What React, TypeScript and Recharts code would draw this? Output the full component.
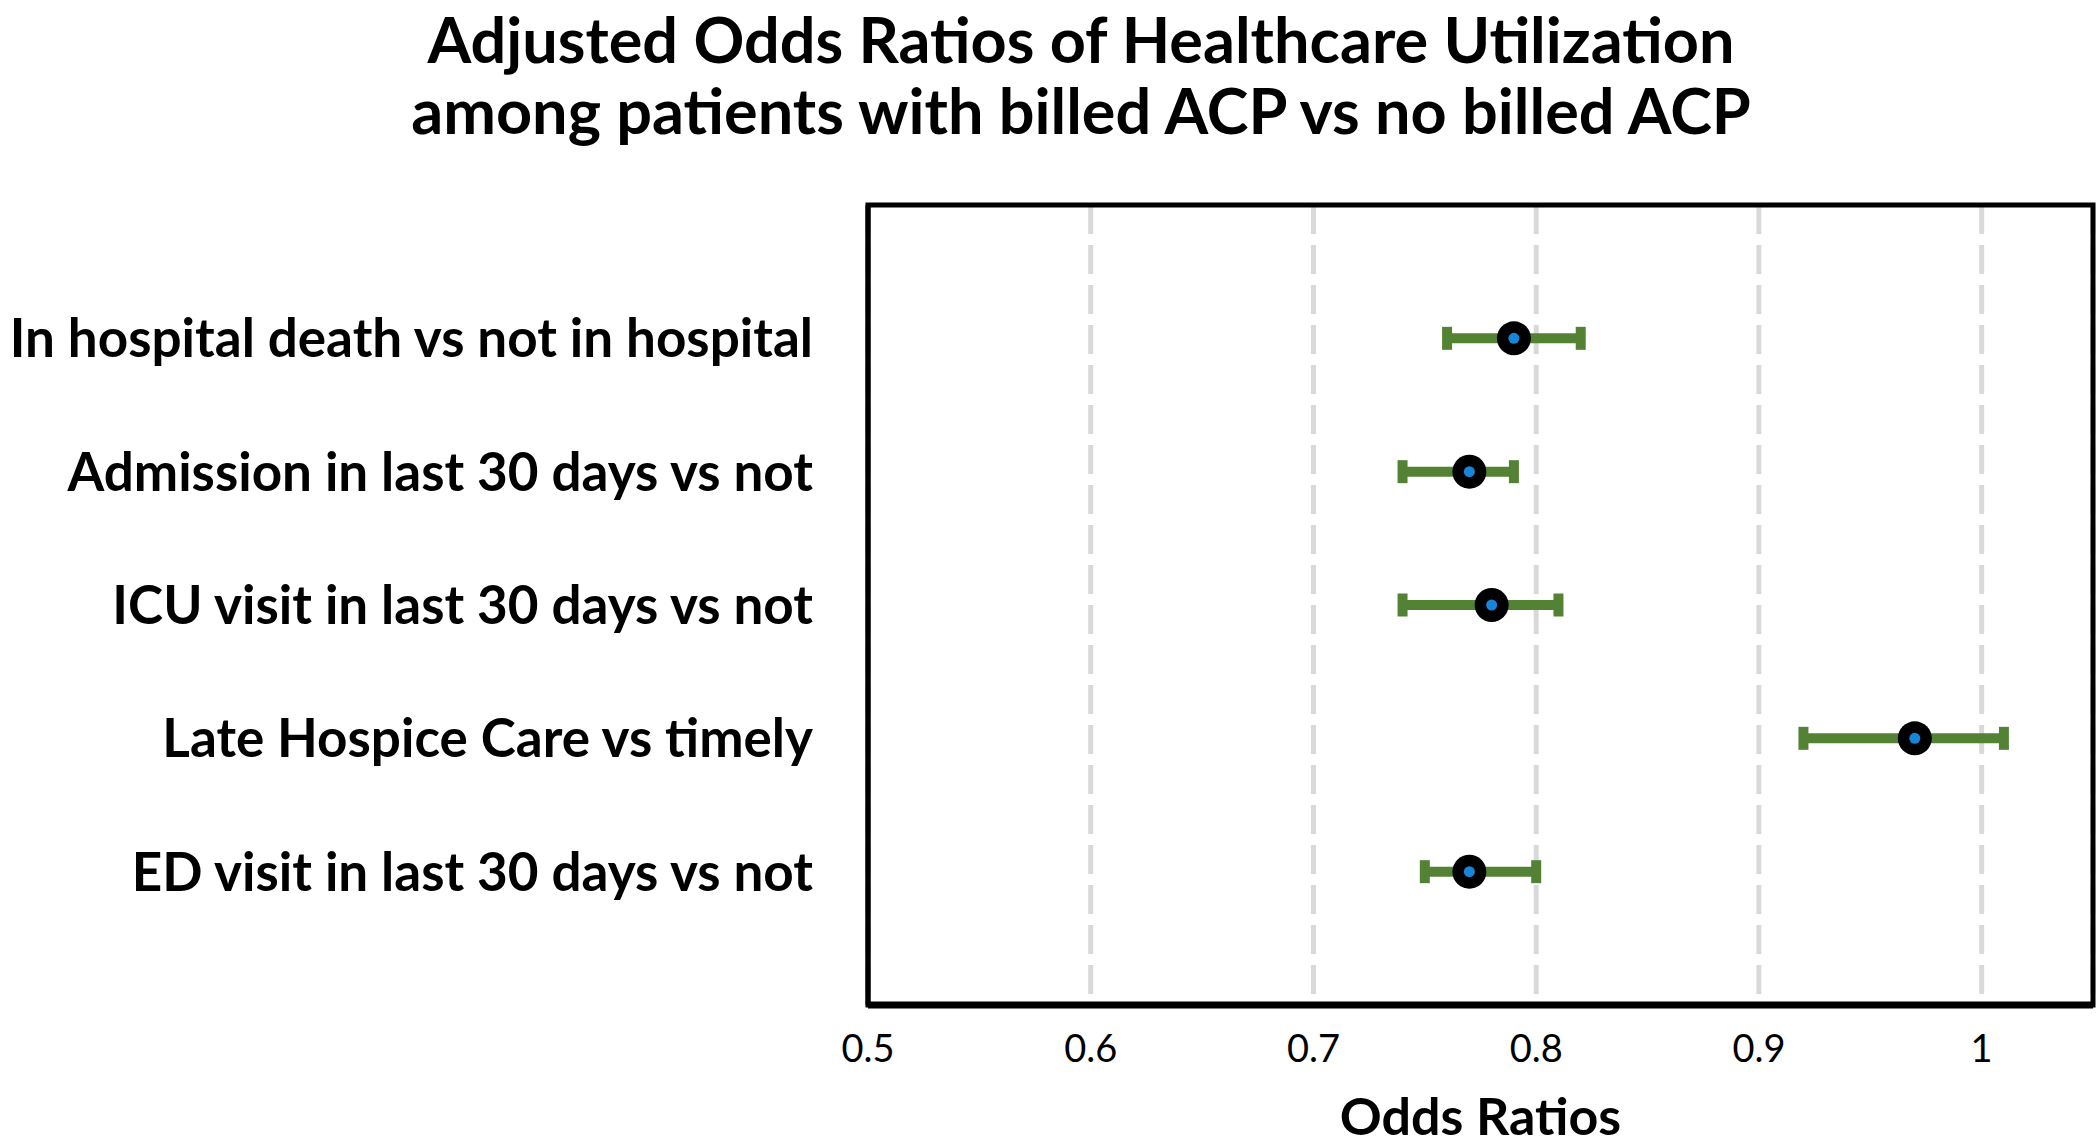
import React from "react";
import {
  ScatterChart,
  Scatter,
  XAxis,
  YAxis,
  CartesianGrid,
  ErrorBar,
  ReferenceArea,
} from "recharts";

const categories = [
  "In hospital death vs not in hospital",
  "Admission in last 30 days vs not",
  "ICU visit in last 30 days vs not",
  "Late Hospice Care vs timely",
  "ED visit in last 30 days vs not",
];
const oddsRatios = [0.79, 0.77, 0.78, 0.97, 0.77];
const ciLower = [0.76, 0.74, 0.74, 0.92, 0.75];
const ciUpper = [0.82, 0.79, 0.81, 1.01, 0.8];
const xTicks = [0.5, 0.6, 0.7, 0.8, 0.9, 1];

const FONT = "Lato, 'Open Sans', sans-serif";
const GREEN = "#548235";

// rows are numbered from the bottom, first category at the top
const data = categories.map((name, i) => ({
  name,
  or: oddsRatios[i],
  row: categories.length - i,
  err: [oddsRatios[i] - ciLower[i], ciUpper[i] - oddsRatios[i]],
}));
const rowTicks = data.map((d) => d.row).reverse();

const CategoryTick = ({ x, y, payload }: any) => {
  const item = data.find((d) => d.row === payload.value);
  return (
    <text
      x={x}
      y={y}
      dy="0.36em"
      textAnchor="end"
      fontSize={53}
      fontWeight={700}
      fontFamily={FONT}
      fill="#000"
    >
      {item ? item.name : ""}
    </text>
  );
};

const ValueTick = ({ x, y, payload }: any) => (
  <text x={x} y={y} textAnchor="middle" fontSize={38} fontFamily={FONT} fill="#000">
    {payload.value}
  </text>
);

const Marker = ({ cx, cy }: any) => (
  <g>
    <circle cx={cx} cy={cy} r={17} fill="#000" />
    <circle cx={cx} cy={cy} r={5.5} fill="#1685da" />
  </g>
);

export default function App() {
  return (
    <div style={{ position: "absolute", left: 0, top: 0, width: 2100, height: 1146, background: "#fff" }}>
      <div
        style={{
          position: "absolute",
          left: 0,
          top: 3,
          width: 2162,
          textAlign: "center",
          fontFamily: FONT,
          fontWeight: 700,
          fontSize: 63,
          lineHeight: "71px",
          color: "#000",
        }}
      >
        Adjusted Odds Ratios of Healthcare Utilization
        <br />
        among patients with billed ACP vs no billed ACP
      </div>
      <ScatterChart
        width={2100}
        height={1146}
        margin={{ top: 205, right: 7, bottom: 0, left: 0 }}
        style={{ fontFamily: FONT }}
      >
        <CartesianGrid
          horizontal={false}
          stroke="#d9d9d9"
          strokeWidth={5}
          strokeDasharray="29 11"
        />
        <ReferenceArea
          x1={0.5}
          x2={1.05}
          y1={0}
          y2={6}
          fill="none"
          stroke="#000"
          strokeWidth={5}
          ifOverflow="visible"
        />
        <XAxis
          type="number"
          dataKey="or"
          domain={[0.5, 1.05]}
          ticks={xTicks}
          allowDataOverflow
          height={141}
          tickSize={0}
          tickMargin={57}
          tick={<ValueTick />}
          axisLine={{ stroke: "#000", strokeWidth: 7 }}
          label={{
            value: "Odds Ratios",
            position: "insideBottom",
            offset: 11,
            fontSize: 52,
            fontWeight: 700,
            fill: "#000",
            fontFamily: FONT,
          }}
        />
        <YAxis
          type="number"
          dataKey="row"
          domain={[0, 6]}
          ticks={rowTicks}
          width={868}
          tickSize={0}
          tickMargin={55}
          tick={<CategoryTick />}
          axisLine={{ stroke: "#000", strokeWidth: 5 }}
        />
        <Scatter data={data} shape={<Marker />} isAnimationActive={false}>
          <ErrorBar
            dataKey="err"
            direction="x"
            width={11.5}
            strokeWidth={10}
            stroke={GREEN}
            isAnimationActive={false}
          />
        </Scatter>
      </ScatterChart>
    </div>
  );
}
